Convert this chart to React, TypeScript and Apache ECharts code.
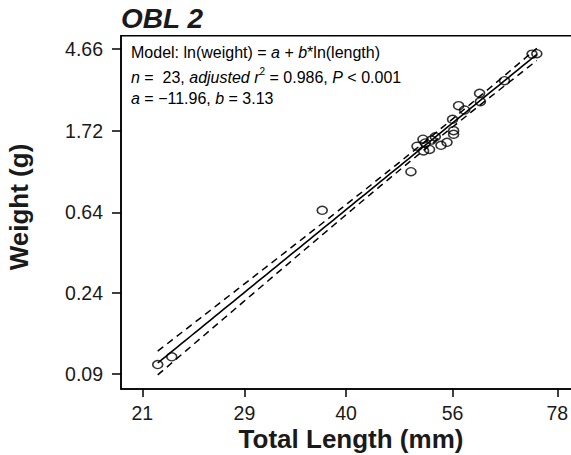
import React, { useEffect, useRef } from "react";
import * as echarts from "echarts";

const lengthsMm = [22.05, 23.05, 37.09, 49.1, 50.05, 51.0, 51.1, 52.07, 51.37, 53.03, 53.99, 55.03, 56.19, 56.19, 56.0, 57.08, 58.18, 61.0, 61.15, 66.0, 72.0, 73.1, 52.4];
const weightsG = [0.1006, 0.1105, 0.656, 1.049, 1.429, 1.556, 1.35, 1.374, 1.487, 1.605, 1.446, 1.499, 1.653, 1.727, 1.983, 2.34, 2.22, 2.72, 2.457, 3.17, 4.38, 4.4, 1.54];

// Tick labels (axes are on ln scale)
const xTickLabels = ["21", "29", "40", "56", "78"];
const yTickLabels = ["0.09", "0.24", "0.64", "1.72", "4.66"];

// Model coefficients (from the annotation)
const interceptA = -11.96;
const slopeB = 3.13;
const tCrit = 2.08;

const FONT = '"Liberation Sans", Arial, Helvetica, sans-serif';
const INK = "#1a1a1a";

export default function App() {
  const ref = useRef<HTMLDivElement>(null);

  useEffect(() => {
    document.body.style.margin = "0";
    const chart = echarts.init(ref.current!, null, { renderer: "svg" });

    const lx = lengthsMm.map((v) => Math.log(v));
    const ly = weightsG.map((v) => Math.log(v));
    const n = lx.length;
    const xbar = lx.reduce((s, v) => s + v, 0) / n;
    const sxx = lx.reduce((s, v) => s + (v - xbar) ** 2, 0);
    const sse = lx.reduce((s, v, i) => s + (ly[i] - (interceptA + slopeB * v)) ** 2, 0);
    const se = Math.sqrt(sse / (n - 2));
    const xmin = Math.min(...lx);
    const xmax = Math.max(...lx);
    const steps = 80;
    const fit: number[][] = [];
    const upper: number[][] = [];
    const lower: number[][] = [];
    for (let i = 0; i <= steps; i++) {
      const x = xmin + ((xmax - xmin) * i) / steps;
      const yh = interceptA + slopeB * x;
      const hw = tCrit * se * Math.sqrt(1 / n + (x - xbar) ** 2 / sxx);
      fit.push([x, yh]);
      upper.push([x, yh + hw]);
      lower.push([x, yh - hw]);
    }

    const xTicks = xTickLabels.map((t) => Math.log(parseFloat(t)));
    const yTicks = yTickLabels.map((t) => Math.log(parseFloat(t)));
    const nearest = (vals: number[], labels: string[], v: number) => {
      let bi = 0;
      for (let i = 1; i < vals.length; i++) if (Math.abs(vals[i] - v) < Math.abs(vals[bi] - v)) bi = i;
      return labels[bi];
    };

    const axisCommon = {
      type: "value" as const,
      splitLine: { show: false },
      axisLine: { show: true, onZero: false, lineStyle: { color: "#000", width: 1.5 } },
    };

    chart.setOption({
      animation: false,
      backgroundColor: "#fff",
      grid: {
        left: 121,
        top: 35.7,
        width: 462,
        height: 353.3,
        show: true,
        borderColor: "#000",
        borderWidth: 1.5,
        backgroundColor: "transparent",
        outerBoundsMode: "none",
      },
      xAxis: {
        ...axisCommon,
        min: 2.9772,
        max: 4.4378,
        axisTick: { show: true, customValues: xTicks, length: 8, lineStyle: { color: "#000", width: 1.5 } },
        axisLabel: {
          customValues: xTicks,
          formatter: (v: number) => nearest(xTicks, xTickLabels, v),
          color: INK,
          fontSize: 19.5,
          fontFamily: FONT,
          margin: 14,
        },
      },
      yAxis: {
        ...axisCommon,
        min: -2.594,
        max: 1.7007,
        axisTick: { show: true, customValues: yTicks, length: 9, lineStyle: { color: "#000", width: 1.5 } },
        axisLabel: {
          customValues: yTicks,
          formatter: (v: number) => nearest(yTicks, yTickLabels, v),
          color: INK,
          fontSize: 19.5,
          fontFamily: FONT,
          margin: 18,
        },
      },
      series: [
        {
          type: "line",
          data: upper,
          showSymbol: false,
          symbol: "none",
          lineStyle: { color: "#000", width: 1.5, type: [7, 5] },
          silent: true,
        },
        {
          type: "line",
          data: lower,
          showSymbol: false,
          symbol: "none",
          lineStyle: { color: "#000", width: 1.5, type: [7, 5] },
          silent: true,
        },
        {
          type: "line",
          data: fit,
          showSymbol: false,
          symbol: "none",
          lineStyle: { color: "#000", width: 1.6 },
          silent: true,
        },
        {
          type: "scatter",
          data: lx.map((x, i) => [x, ly[i]]),
          symbol: "circle",
          symbolSize: [10, 8],
          itemStyle: { color: "rgba(255,255,255,0)", borderColor: "#000", borderWidth: 1.5 },
          z: 5,
        },
      ],
      graphic: [
        {
          type: "text",
          x: 121,
          y: 18.4,
          style: { text: "OBL 2", font: `italic bold 28px ${FONT}`, fill: INK, verticalAlign: "middle" },
        },
        {
          type: "text",
          x: 19,
          y: 207,
          rotation: Math.PI / 2,
          style: { text: "Weight (g)", font: `bold 26px ${FONT}`, fill: INK, align: "center", verticalAlign: "middle" },
        },
        {
          type: "text",
          x: 351,
          y: 439,
          style: { text: "Total Length (mm)", font: `bold 26px ${FONT}`, fill: INK, align: "center", verticalAlign: "middle" },
        },
        {
          type: "text",
          x: 131,
          y: 52.7,
          style: {
            text: "Model: ln(weight) = {i|a} + {i|b}*ln(length)",
            font: `16px ${FONT}`,
            fill: "#000",
            verticalAlign: "middle",
            rich: { i: { fontStyle: "italic", fontSize: 16, fontFamily: FONT } },
          },
        },
        {
          type: "text",
          x: 131,
          y: 77.7,
          style: {
            text: "{i|n} =  23, {i|adjusted r}{sup|2} = 0.986, {i|P} < 0.001",
            font: `16px ${FONT}`,
            fill: "#000",
            verticalAlign: "middle",
            rich: {
              i: { fontStyle: "italic", fontSize: 16, fontFamily: FONT, lineHeight: 22 },
              sup: { fontSize: 10, fontFamily: FONT, verticalAlign: "top", lineHeight: 22 },
            },
          },
        },
        {
          type: "text",
          x: 131,
          y: 98.7,
          style: {
            text: "{i|a} = \u221211.96, {i|b} = 3.13",
            font: `16px ${FONT}`,
            fill: "#000",
            verticalAlign: "middle",
            rich: { i: { fontStyle: "italic", fontSize: 16, fontFamily: FONT } },
          },
        },
      ],
    });

    return () => chart.dispose();
  }, []);

  return <div ref={ref} style={{ width: 571, height: 455, position: "absolute", left: 0, top: 0 }} />;
}
